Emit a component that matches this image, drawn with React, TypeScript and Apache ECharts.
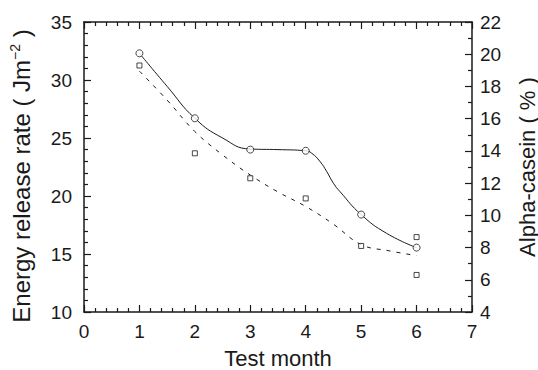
import React, { useEffect, useRef } from 'react';
import * as echarts from 'echarts';

// Energy release rate (left axis, circles)
const months = [1, 2, 3, 4, 5, 6];
const energyRate = [32.3, 26.7, 24.0, 23.9, 18.4, 15.55];

// Solid smooth curve through the circles
const curveMonths = [1, 1.5, 2, 2.5, 3, 3.5, 4, 4.11, 4.26, 4.38, 4.5, 4.62, 5, 5.46, 6];
const curveValues = [32.3, 29.45, 26.7, 25.0, 24.05, 24.0, 23.9, 23.68, 22.96, 22.1, 21.1, 20.37, 18.4, 16.78, 15.55];

// Alpha-casein (right axis, squares)
const caseinMonths = [1, 2, 3, 4, 5, 6, 6];
const caseinValues = [19.3, 13.85, 12.3, 11.05, 8.1, 8.65, 6.3];

// Dashed fitted curve for alpha-casein
const fitMonths = [1, 1.5, 2, 2.5, 3, 3.5, 4, 4.5, 5, 5.5, 6];
const fitValues = [18.95, 17.15, 15.2, 13.75, 12.5, 11.45, 10.55, 9.45, 8.18, 7.8, 7.5];

const xTicks = { min: 0, max: 7, interval: 1 };
const leftTicks = { min: 10, max: 35, interval: 5 };
const rightTicks = { min: 4, max: 22, interval: 2 };

const FONT = "'Liberation Sans', Arial, Helvetica, sans-serif";
const INK = '#1a1a1a';

export default function App() {
  const ref = useRef<HTMLDivElement>(null);

  useEffect(() => {
    if (!ref.current) return;
    const chart = echarts.init(ref.current, undefined, { renderer: 'svg' });
    const axisLine = { show: true, onZero: false, lineStyle: { color: INK, width: 1.5 } };
    const tickStyle = { color: INK, width: 1.2 };
    chart.setOption({
      animation: false,
      backgroundColor: '#ffffff',
      textStyle: { fontFamily: FONT },
      grid: { left: 84, right: 66, top: 22, bottom: 58, containLabel: false, outerBoundsMode: 'none' },
      xAxis: [
        {
          type: 'value',
          position: 'bottom',
          ...xTicks,
          axisLine,
          axisTick: { show: true, inside: true, length: 7, lineStyle: tickStyle },
          minorTick: { show: true, splitNumber: 5, length: 4, lineStyle: tickStyle },
          splitLine: { show: false },
          axisLabel: { fontSize: 19, color: INK, margin: 10, fontFamily: FONT },
          name: 'Test month',
          nameLocation: 'middle',
          nameGap: 36,
          nameTextStyle: { fontSize: 22, lineHeight: 20, color: INK, fontFamily: FONT },
        },
        {
          type: 'value',
          position: 'top',
          ...xTicks,
          axisLine,
          axisTick: { show: true, inside: true, length: 7, lineStyle: tickStyle },
          minorTick: { show: true, splitNumber: 5, length: 4, lineStyle: tickStyle },
          splitLine: { show: false },
          axisLabel: { show: false },
        },
      ],
      yAxis: [
        {
          type: 'value',
          position: 'left',
          ...leftTicks,
          axisLine,
          axisTick: { show: true, inside: true, length: 7, lineStyle: tickStyle },
          minorTick: { show: true, splitNumber: 5, length: 4, lineStyle: tickStyle },
          splitLine: { show: false },
          axisLabel: { fontSize: 19, color: INK, margin: 12, fontFamily: FONT },
          name: 'Energy release rate ( Jm{sup|−2} )',
          nameLocation: 'middle',
          nameRotate: 90,
          nameGap: 50,
          nameTextStyle: {
            fontSize: 24,
            color: INK,
            fontFamily: FONT,
            lineHeight: 26,
            padding: [0, 18, 0, 0],
            rich: { sup: { fontSize: 14, verticalAlign: 'top', lineHeight: 14, color: INK, fontFamily: FONT } },
          },
        },
        {
          type: 'value',
          position: 'right',
          ...rightTicks,
          axisLine,
          axisTick: { show: true, inside: true, length: 7, lineStyle: tickStyle },
          minorTick: { show: true, splitNumber: 2, length: 4, lineStyle: tickStyle },
          splitLine: { show: false },
          axisLabel: { fontSize: 19, color: INK, margin: 8, fontFamily: FONT },
          name: 'Alpha-casein ( % )',
          nameLocation: 'middle',
          nameRotate: 90,
          nameGap: 44,
          nameTextStyle: { fontSize: 22, lineHeight: 22, color: INK, fontFamily: FONT },
        },
      ],
      series: [
        {
          name: 'Energy release rate curve',
          type: 'line',
          xAxisIndex: 0,
          yAxisIndex: 0,
          data: curveMonths.map((m, i) => [m, curveValues[i]]),
          smooth: 0.5,
          showSymbol: false,
          symbol: 'none',
          lineStyle: { color: INK, width: 1 },
          z: 2,
        },
        {
          name: 'Energy release rate',
          type: 'scatter',
          xAxisIndex: 0,
          yAxisIndex: 0,
          data: months.map((m, i) => [m, energyRate[i]]),
          symbol: 'circle',
          symbolSize: 7,
          itemStyle: { color: '#ffffff', borderColor: INK, borderWidth: 1 },
          z: 4,
        },
        {
          name: 'Alpha-casein fit',
          type: 'line',
          xAxisIndex: 0,
          yAxisIndex: 1,
          data: fitMonths.map((m, i) => [m, fitValues[i]]),
          smooth: 0.4,
          showSymbol: false,
          symbol: 'none',
          lineStyle: { color: INK, width: 1, type: [4, 6] },
          z: 2,
        },
        {
          name: 'Alpha-casein',
          type: 'scatter',
          xAxisIndex: 0,
          yAxisIndex: 1,
          data: caseinMonths.map((m, i) => [m, caseinValues[i]]),
          symbol: 'rect',
          symbolSize: 5,
          itemStyle: { color: '#ffffff', borderColor: INK, borderWidth: 1 },
          z: 4,
        },
      ],
    });
    return () => chart.dispose();
  }, []);

  return <div ref={ref} style={{ position: 'absolute', left: 0, top: 0, width: 538, height: 370 }} />;
}
